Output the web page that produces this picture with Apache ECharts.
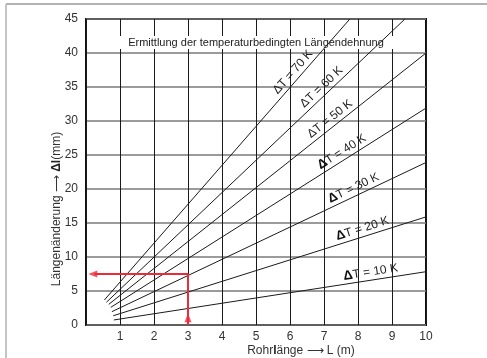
<!DOCTYPE html>
<html>
<head>
<meta charset="utf-8">
<script src="https://cdn.jsdelivr.net/npm/echarts@6/dist/echarts.min.js"></script>
<style>
html, body { margin: 0; padding: 0; background: #fff; }
#chart { width: 487px; height: 358px; }
</style>
</head>
<body>
<div id="chart"></div>
<script>
// values
const deltaT = [70, 60, 50, 40, 30, 20, 10];
const lineStart = [[0.54, 3.68], [0.60, 3.34], [0.67, 3.04], [0.73, 2.6], [0.76, 1.96], [0.80, 1.36], [0.82, 0.74]];
const lineEnd = [[7.76, 45], [9.38, 45], [10, 40], [10, 31.9], [10, 23.9], [10, 15.9], [10, 7.84]];
const labelL = [6.26, 7.09, 7.32, 7.65, 7.97, 8.2, 8.41];
const boldDelta = [false, false, false, true, true, true, true];
const readPath = [[3, 0], [3, 7.5], [0.25, 7.5]];
const arrowHeads = [[3, 1.05, 0], [0.2, 7.5, 90]];

const FONT = '"Liberation Sans", Arial, sans-serif';
const chart = echarts.init(document.getElementById('chart'));

const series = deltaT.map((t, i) => ({
    type: 'line',
    name: 'dT' + t,
    data: [lineStart[i], lineEnd[i]],
    symbol: 'none',
    silent: true,
    lineStyle: { color: '#1a1a1a', width: 1 },
    z: 2
}));
series.push({
    type: 'line',
    data: readPath,
    symbol: 'none',
    silent: true,
    lineStyle: { color: '#ee2a3a', width: 2 },
    z: 4
});
series.push({
    type: 'scatter',
    data: arrowHeads.map(a => ({ value: [a[0], a[1]], symbolRotate: a[2] })),
    symbol: 'triangle',
    symbolSize: [7, 9],
    silent: true,
    itemStyle: { color: '#ee2a3a' },
    z: 4
});

chart.setOption({
    animation: false,
    grid: { left: 86, right: 61, top: 19, bottom: 33, show: true, borderColor: '#111', borderWidth: 2, backgroundColor: 'transparent' },
    xAxis: {
        type: 'value', min: 0, max: 10, interval: 1,
        axisLine: { show: false },
        axisTick: { show: false },
        axisLabel: { fontFamily: FONT, fontSize: 12, color: '#333', margin: 6, formatter: v => v === 0 ? '' : String(v) },
        splitLine: { show: true, lineStyle: { color: '#1a1a1a', width: 1 } }
    },
    yAxis: {
        type: 'value', min: 0, max: 45, interval: 5,
        axisLine: { show: false },
        axisTick: { show: false },
        axisLabel: { fontFamily: FONT, fontSize: 12, color: '#333', margin: 8 },
        splitLine: { show: true, lineStyle: { color: '#7a7a7a', width: 1.5 } }
    },
    series: series
});

// decorations placed through the axes
const px = (x, y) => chart.convertToPixel({ gridIndex: 0 }, [x, y]);
const graphics = [];

// outer frame of the picture
graphics.push({ type: 'line', shape: { x1: 6, y1: 4, x2: 487, y2: 4 }, style: { stroke: '#999', lineWidth: 1.5 }, z: 1 });
graphics.push({ type: 'line', shape: { x1: 6, y1: 4, x2: 6, y2: 358 }, style: { stroke: '#c4c4c4', lineWidth: 2 }, z: 1 });

// white band behind title
const bl = px(0, 44.1), br = px(10, 40);
graphics.push({ type: 'rect', shape: { x: bl[0] + 1, y: bl[1] + 11, width: br[0] - bl[0] - 2, height: 13 }, style: { fill: '#fff' }, z: 1 });
graphics.push({
    type: 'text', x: (bl[0] + br[0]) / 2, y: bl[1] + 18, z: 3,
    style: { text: 'Ermittlung der temperaturbedingten Längendehnung', fontFamily: FONT, fontSize: 11, fill: '#222', align: 'center', verticalAlign: 'middle' }
});

// line labels
deltaT.forEach((t, i) => {
    const a = px(lineStart[i][0], lineStart[i][1]);
    const b = px(lineEnd[i][0], lineEnd[i][1]);
    const ang = Math.atan2(a[1] - b[1], b[0] - a[0]);
    const slope = (lineEnd[i][1] - lineStart[i][1]) / (lineEnd[i][0] - lineStart[i][0]);
    const ly = lineStart[i][1] + slope * (labelL[i] - lineStart[i][0]);
    const p = px(labelL[i], ly);
    const off = 8;
    graphics.push({
        type: 'text', z: 3,
        x: p[0] - off * Math.sin(ang), y: p[1] - off * Math.cos(ang),
        rotation: ang,
        style: {
            text: (boldDelta[i] ? '{b|Δ}' : 'Δ') + 'T = ' + t + ' K',
            fontFamily: FONT, fontSize: 12, fill: '#222', align: 'center', verticalAlign: 'middle',
            rich: { b: { fontFamily: FONT, fontSize: 13, fontWeight: 'bold', fill: '#111' } }
        }
    });
});

// axis names
graphics.push({
    type: 'text', x: 57, y: 209, rotation: Math.PI / 2, z: 3,
    style: {
        text: 'Längenänderung ⟶ {b|Δl}(mm)',
        fontFamily: FONT, fontSize: 12, fill: '#333', align: 'center', verticalAlign: 'middle',
        rich: { b: { fontFamily: FONT, fontSize: 12, fontWeight: 'bold', fill: '#222' } }
    }
});
graphics.push({
    type: 'text', x: 301, y: 351, z: 3,
    style: {
        text: 'Rohr{b|l}änge ⟶ L (m)',
        fontFamily: FONT, fontSize: 12, fill: '#333', align: 'center', verticalAlign: 'middle',
        rich: { b: { fontFamily: FONT, fontSize: 12, fontWeight: 'bold', fill: '#222' } }
    }
});

chart.setOption({ graphic: graphics });
</script>
</body>
</html>
